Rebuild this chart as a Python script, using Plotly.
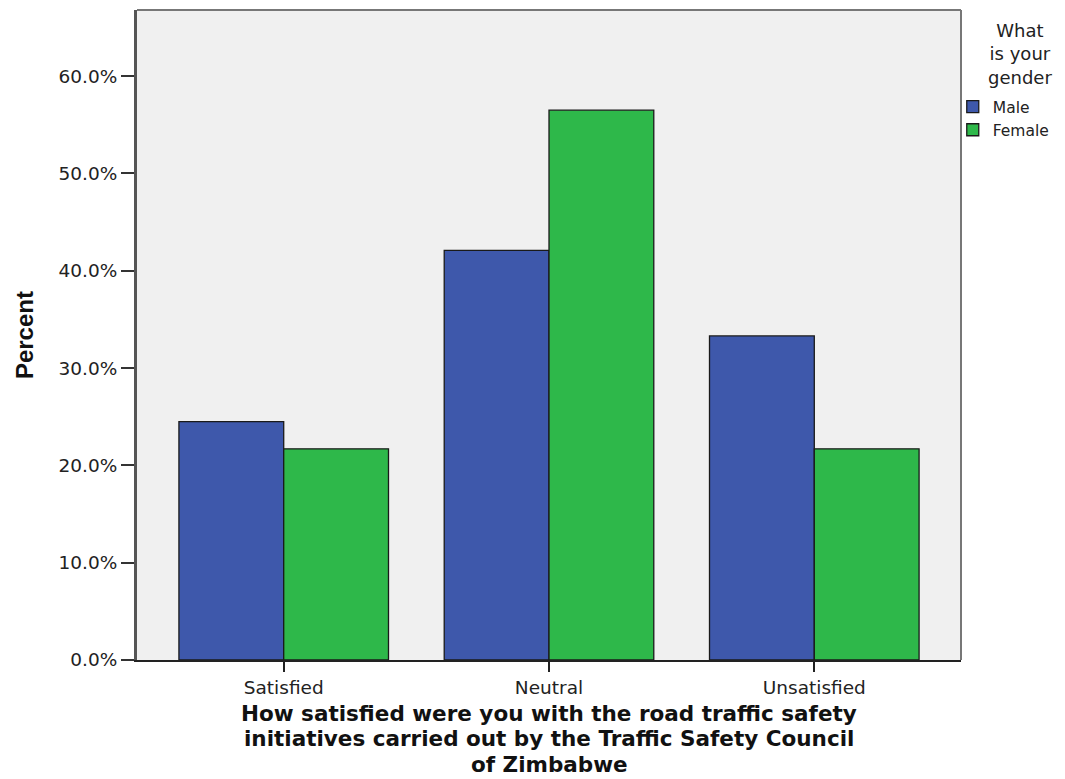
import plotly.graph_objects as go

categories = ["Satisfied", "Neutral", "Unsatisfied"]
male = [24.5, 42.1, 33.3]
female = [21.7, 56.5, 21.7]
tick_vals = [0, 10, 20, 30, 40, 50, 60]
tick_text = ["0.0%", "10.0%", "20.0%", "30.0%", "40.0%", "50.0%", "60.0%"]
x_title_lines = [
    "How satisfied were you with the road traffic safety",
    "initiatives carried out by the Traffic Safety Council",
    "of Zimbabwe",
]
y_title = "Percent"
legend_title = "What<br>is your<br>gender"

FONT = "DejaVu Sans"

fig = go.Figure()
fig.add_trace(go.Bar(name="Male", x=categories, y=male,
                     marker=dict(color="#3E58AB", line=dict(color="#1a1a1a", width=1.3))))
fig.add_trace(go.Bar(name="Female", x=categories, y=female,
                     marker=dict(color="#2EB84A", line=dict(color="#1a1a1a", width=1.3))))

# page y centres 713, 738.5, 764 -> figure coords (minus 8 px body offset)
annotations = []
for line, ypage in zip(x_title_lines, [713, 738.5, 764]):
    annotations.append(dict(
        text="<b>" + line + "</b>", xref="paper", yref="paper", x=0.5,
        y=(652 - (ypage - 8)) / 650,
        xanchor="center", yanchor="middle", showarrow=False,
        font=dict(family=FONT, size=21.5, color="#111")))
annotations.append(dict(
    text="<b>" + y_title + "</b>", xref="paper", yref="paper", x=-0.137, y=0.5,
    xanchor="center", yanchor="middle", textangle=-90, showarrow=False,
    font=dict(family="Liberation Sans", size=24, color="#111")))
annotations.append(dict(
    text=legend_title, xref="paper", yref="paper", x=1.0716, y=(652 - 46) / 650,
    xanchor="center", yanchor="middle", align="center", showarrow=False,
    font=dict(family=FONT, size=18, color="#222")))

fig.update_layout(
    width=1057, height=771,
    margin=dict(l=129, r=104, t=2, b=119),
    paper_bgcolor="white",
    plot_bgcolor="#F0F0F0",
    barmode="group",
    bargap=0.21,
    bargroupgap=0,
    font=dict(family=FONT, color="#222"),
    showlegend=True,
    legend=dict(
        x=0.99, y=(652 - 82) / 650, xanchor="left", yanchor="top",
        font=dict(family=FONT, size=15.5, color="#222"),
        itemwidth=30,
        tracegroupgap=0,
        bgcolor="rgba(0,0,0,0)",
    ),
    xaxis=dict(
        range=[-0.553, 2.553],
        showgrid=False, automargin=False,
        showline=True, linecolor="#222", linewidth=1.5,
        ticks="outside", ticklen=10, tickcolor="#222", tickwidth=1.5,
        tickfont=dict(family=FONT, size=18.5, color="#222"),
    ),
    yaxis=dict(
        range=[0, 66.8],
        tickvals=tick_vals, ticktext=tick_text,
        showgrid=False, zeroline=False, automargin=False,
        showline=True, linecolor="#555", linewidth=3,
        ticks="outside", ticklen=13, tickcolor="#333", tickwidth=2,
        tickfont=dict(family=FONT, size=18.5, color="#222"),
    ),
    annotations=annotations,
    shapes=[
        dict(type="line", xref="paper", yref="paper", x0=0, x1=1, y0=1, y1=1,
             line=dict(color="#777", width=2)),
        dict(type="line", xref="paper", yref="paper", x0=1, x1=1, y0=0, y1=1,
             line=dict(color="#777", width=2)),
    ],
)

fig.write_html("out.html")
